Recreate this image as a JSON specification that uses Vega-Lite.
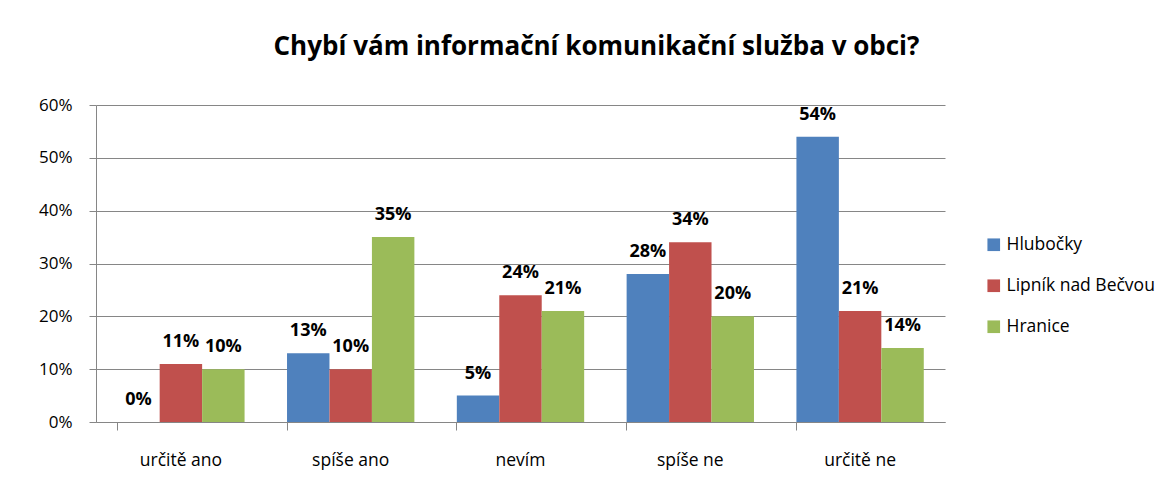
{
  "$schema": "https://vega.github.io/schema/vega-lite/v6.json",
  "width": 849,
  "height": 317,
  "autosize": {"type": "none"},
  "padding": {"left": 96, "top": 105, "right": 231, "bottom": 68},
  "background": "white",
  "config": {"view": {"stroke": null}, "font": "Open Sans"},
  "title": {"text": "Chybí vám informační komunikační služba v obci?", "font": "Open Sans", "fontSize": 26, "fontWeight": "bold", "color": "#000000", "anchor": "middle", "frame": "group", "dx": 76, "offset": 36},
  "data": {"values": [
    {"cat": "určitě ano", "series": "Hlubočky", "v": 0},
    {"cat": "určitě ano", "series": "Lipník nad Bečvou", "v": 0.11},
    {"cat": "určitě ano", "series": "Hranice", "v": 0.10},
    {"cat": "spíše ano", "series": "Hlubočky", "v": 0.13},
    {"cat": "spíše ano", "series": "Lipník nad Bečvou", "v": 0.10},
    {"cat": "spíše ano", "series": "Hranice", "v": 0.35},
    {"cat": "nevím", "series": "Hlubočky", "v": 0.05},
    {"cat": "nevím", "series": "Lipník nad Bečvou", "v": 0.24},
    {"cat": "nevím", "series": "Hranice", "v": 0.21},
    {"cat": "spíše ne", "series": "Hlubočky", "v": 0.28},
    {"cat": "spíše ne", "series": "Lipník nad Bečvou", "v": 0.34},
    {"cat": "spíše ne", "series": "Hranice", "v": 0.20},
    {"cat": "určitě ne", "series": "Hlubočky", "v": 0.54},
    {"cat": "určitě ne", "series": "Lipník nad Bečvou", "v": 0.21},
    {"cat": "určitě ne", "series": "Hranice", "v": 0.14}
  ]},
  "encoding": {
    "x": {"field": "cat", "type": "nominal", "sort": null,
      "scale": {"paddingInner": 0.25, "paddingOuter": 0.125},
      "axis": {"title": null, "labelAngle": 0, "labelFontSize": 17.5, "labelColor": "#000000", "labelPadding": 21, "domainColor": "#868686", "tickColor": "#868686", "tickSize": 8, "bandPosition": 0, "labelFont": "Open Sans"}},
    "xOffset": {"field": "series", "type": "nominal", "sort": ["Hlubočky", "Lipník nad Bečvou", "Hranice"]},
    "y": {"field": "v", "type": "quantitative",
      "scale": {"domain": [0, 0.6], "nice": false},
      "axis": {"title": null, "format": ".0%", "values": [0, 0.1, 0.2, 0.3, 0.4, 0.5, 0.6], "labelFontSize": 17, "labelColor": "#000000", "labelPadding": 17, "domainColor": "#868686", "tickColor": "#868686", "tickSize": 7, "gridColor": "#868686", "gridOpacity": 1, "labelFont": "Open Sans"}}
  },
  "layer": [
    {"mark": {"type": "bar"},
     "encoding": {"color": {"field": "series", "type": "nominal", "sort": ["Hlubočky", "Lipník nad Bečvou", "Hranice"],
        "scale": {"domain": ["Hlubočky", "Lipník nad Bečvou", "Hranice"], "range": ["#4F81BD", "#C0504D", "#9BBB59"]},
        "legend": {"title": null, "orient": "none", "legendX": 889, "legendY": 131, "symbolType": "square", "symbolSize": 160, "symbolStrokeWidth": 0, "labelFontSize": 17.5, "labelColor": "#000000", "rowPadding": 22, "labelFont": "Open Sans", "labelOffset": 4}}}},
    {"mark": {"type": "text", "baseline": "alphabetic", "dy": -17, "fontSize": 18, "fontWeight": "bold", "color": "#000000", "font": "Open Sans"},
     "encoding": {"text": {"field": "v", "type": "quantitative", "format": ".0%"}}}
  ]
}
